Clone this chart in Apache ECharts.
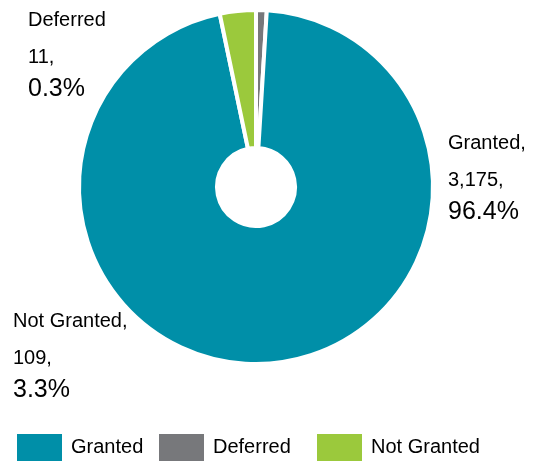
<!DOCTYPE html>
<html>
<head>
<meta charset="utf-8">
<script src="https://cdn.jsdelivr.net/npm/echarts@6/dist/echarts.min.js"></script>
<style>
  html, body { margin: 0; padding: 0; background: #fff; }
  #chart { width: 538px; height: 461px; }
</style>
</head>
<body>
<div id="chart"></div>
<script>
// Application outcomes
const categories = ['Deferred', 'Granted', 'Not Granted'];
const counts = [11, 3175, 109];
const legendOrder = ['Granted', 'Deferred', 'Not Granted'];

const colors = {
  'Granted': '#008FA8',
  'Deferred': '#77787B',
  'Not Granted': '#9BC93C'
};

// where each callout block sits (top-left corner)
const calloutAt = {
  'Granted': [448, 124],
  'Deferred': [28, 1],
  'Not Granted': [13, 302]
};

// left edge of each legend entry
const legendLeft = [17, 159, 317];

const font = '"Liberation Sans", Arial, Helvetica, sans-serif';
const ink = '#000';

const chart = echarts.init(document.getElementById('chart'), null, { renderer: 'canvas' });

// one legend per entry so each swatch lands at its own column
const legends = legendOrder.map(function (name, i) {
  return {
    data: [name],
    left: legendLeft[i],
    top: 434,
    padding: 0,
    itemWidth: 45,
    itemHeight: 27,
    icon: 'rect',
    itemStyle: { borderWidth: 0 },
    textStyle: {
      fontFamily: font,
      fontSize: 20,
      color: ink,
      padding: [2, 0, 0, 4]
    }
  };
});

chart.setOption({
  backgroundColor: '#ffffff',
  animation: false,
  legend: legends,
  series: [{
    type: 'pie',
    center: [256, 187],
    radius: [39, 177],
    startAngle: 90,
    clockwise: true,
    minAngle: 3.5,
    percentPrecision: 1,
    avoidLabelOverlap: false,
    itemStyle: { borderColor: '#ffffff', borderWidth: 4 },
    emphasis: { disabled: true },
    labelLine: { show: false },
    label: {
      show: true,
      position: 'outside',
      fontFamily: font,
      color: ink,
      formatter: function (p) {
        const sep = p.name === 'Deferred' ? '' : ',';
        return '{n|' + p.name + sep + '}\n{v|' + p.value.toLocaleString('en-US') + ',}\n{p|' + p.percent.toFixed(1) + '%}';
      },
      rich: {
        n: { fontFamily: font, fontSize: 20, lineHeight: 38, color: ink },
        v: { fontFamily: font, fontSize: 20, lineHeight: 36, color: ink },
        p: { fontFamily: font, fontSize: 25, lineHeight: 28, color: ink }
      }
    },
    labelLayout: function (params) {
      const spot = calloutAt[categories[params.dataIndex]];
      return { x: spot[0], y: spot[1], align: 'left', verticalAlign: 'top' };
    },
    data: categories.map(function (name, i) {
      return { name: name, value: counts[i], itemStyle: { color: colors[name] } };
    })
  }]
});
</script>
</body>
</html>
